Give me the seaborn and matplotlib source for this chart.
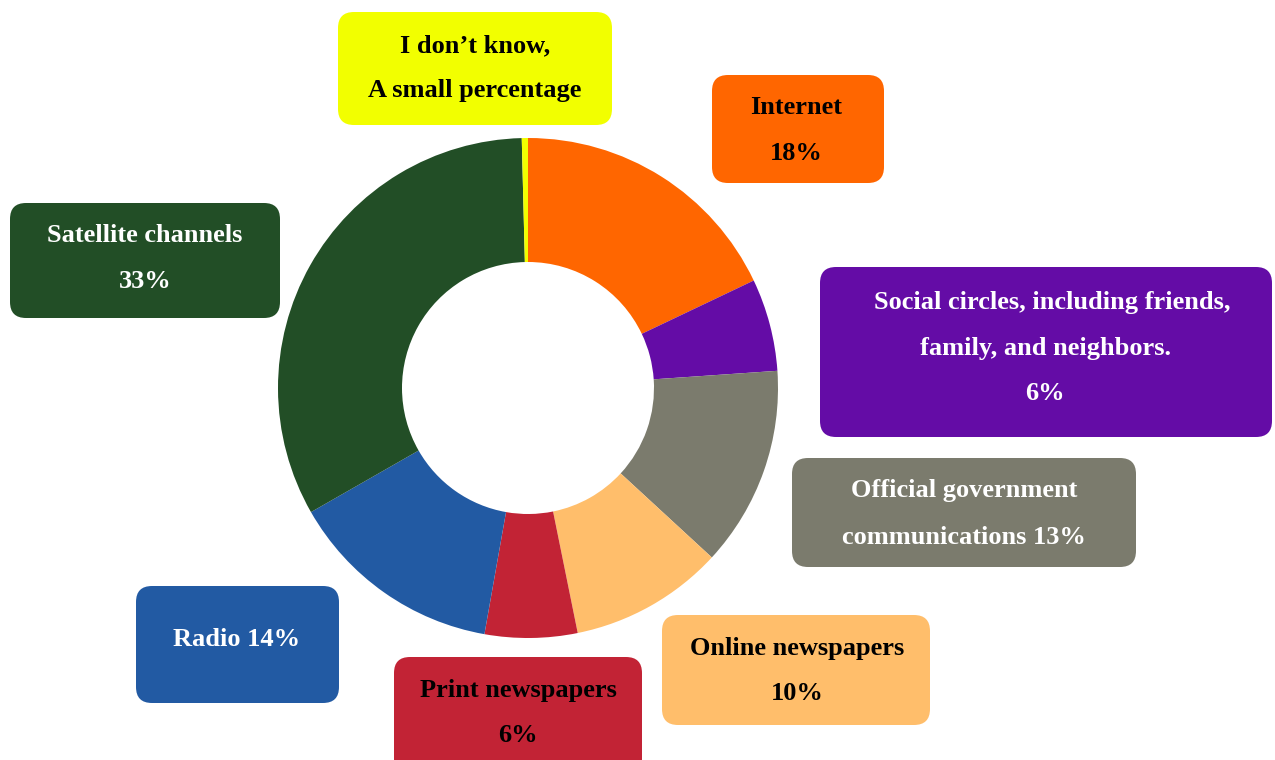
import matplotlib
matplotlib.use("Agg")
import matplotlib.pyplot as plt
from matplotlib.patches import FancyBboxPatch
import seaborn as sns

# Share of respondents by main news source (clockwise from the top)
sources = ["Internet", "Social circles", "Official government communications",
           "Online newspapers", "Print newspapers", "Radio",
           "Satellite channels", "I don't know"]
shares = [18, 6, 13, 10, 6, 14, 33, 0.4]
colors = ["#FF6600", "#640CA6", "#7B7B6D", "#FFBE6B", "#C22335",
          "#225AA3", "#224E26", "#F2FF00"]

# Label text for each box (one entry per line)
label_lines = {
    "Internet": ["Internet", "18%"],
    "Social circles": ["Social circles, including friends,", "family, and neighbors.", "6%"],
    "Official government communications": ["Official government", "communications 13%"],
    "Online newspapers": ["Online newspapers", "10%"],
    "Print newspapers": ["Print newspapers", "6%"],
    "Radio": ["Radio 14%"],
    "Satellite channels": ["Satellite channels", "33%"],
    "I don't know": ["I don\u2019t know,", "A small percentage"],
}
text_colors = {
    "Internet": "black", "Social circles": "white",
    "Official government communications": "white",
    "Online newspapers": "black", "Print newspapers": "black",
    "Radio": "white", "Satellite channels": "white", "I don't know": "black",
}

sns.set_theme(style="white")
plt.rcParams["font.family"] = ["Liberation Serif", "DejaVu Serif"]

W, H = 1275, 760
fig = plt.figure(figsize=(W / 100, H / 100), dpi=100)
ax = fig.add_axes([0, 0, 1, 1])

cx, cy, r_out = 528, H - 388, 250
ax.pie(shares, colors=sns.color_palette(colors), startangle=90, counterclock=False,
       radius=r_out, center=(cx, cy),
       wedgeprops=dict(width=124, linewidth=0, antialiased=True))
ax.set_xlim(0, W)
ax.set_ylim(0, H)
ax.set_aspect("equal")
ax.axis("off")

# Box layout in pixels (left, top, right, bottom), line y positions (from top), text x centre
layout = {
    "I don't know": ((338, 12, 612, 125), [46, 91], 475),
    "Internet": ((712, 75, 884, 183), [107, 153], 796),
    "Satellite channels": ((10, 203, 280, 318), [235, 281], 145),
    "Social circles": ((820, 267, 1272, 437), [302, 348, 394], [1052, 1045, 1045]),
    "Official government communications": ((792, 458, 1136, 567), [491, 537], 964),
    "Online newspapers": ((662, 615, 930, 725), [648, 693], 797),
    "Print newspapers": ((394, 657, 642, 775), [691, 736], 518),
    "Radio": ((136, 586, 339, 703), [639], 237),
}

for src, col in zip(sources, colors):
    (x0, y0, x1, y1), ys, xc = layout[src]
    box = FancyBboxPatch((x0, H - y1), x1 - x0, y1 - y0,
                         boxstyle="round,pad=0,rounding_size=16",
                         facecolor=col, edgecolor="none", zorder=3)
    ax.add_patch(box)
    xs = xc if isinstance(xc, list) else [xc] * len(ys)
    for line, x, y in zip(label_lines[src], xs, ys):
        ax.text(x, H - y, line, ha="center", va="center", fontsize=19,
                fontweight="bold", color=text_colors[src], zorder=4)

fig.savefig("out.png", dpi=100, facecolor="white")
